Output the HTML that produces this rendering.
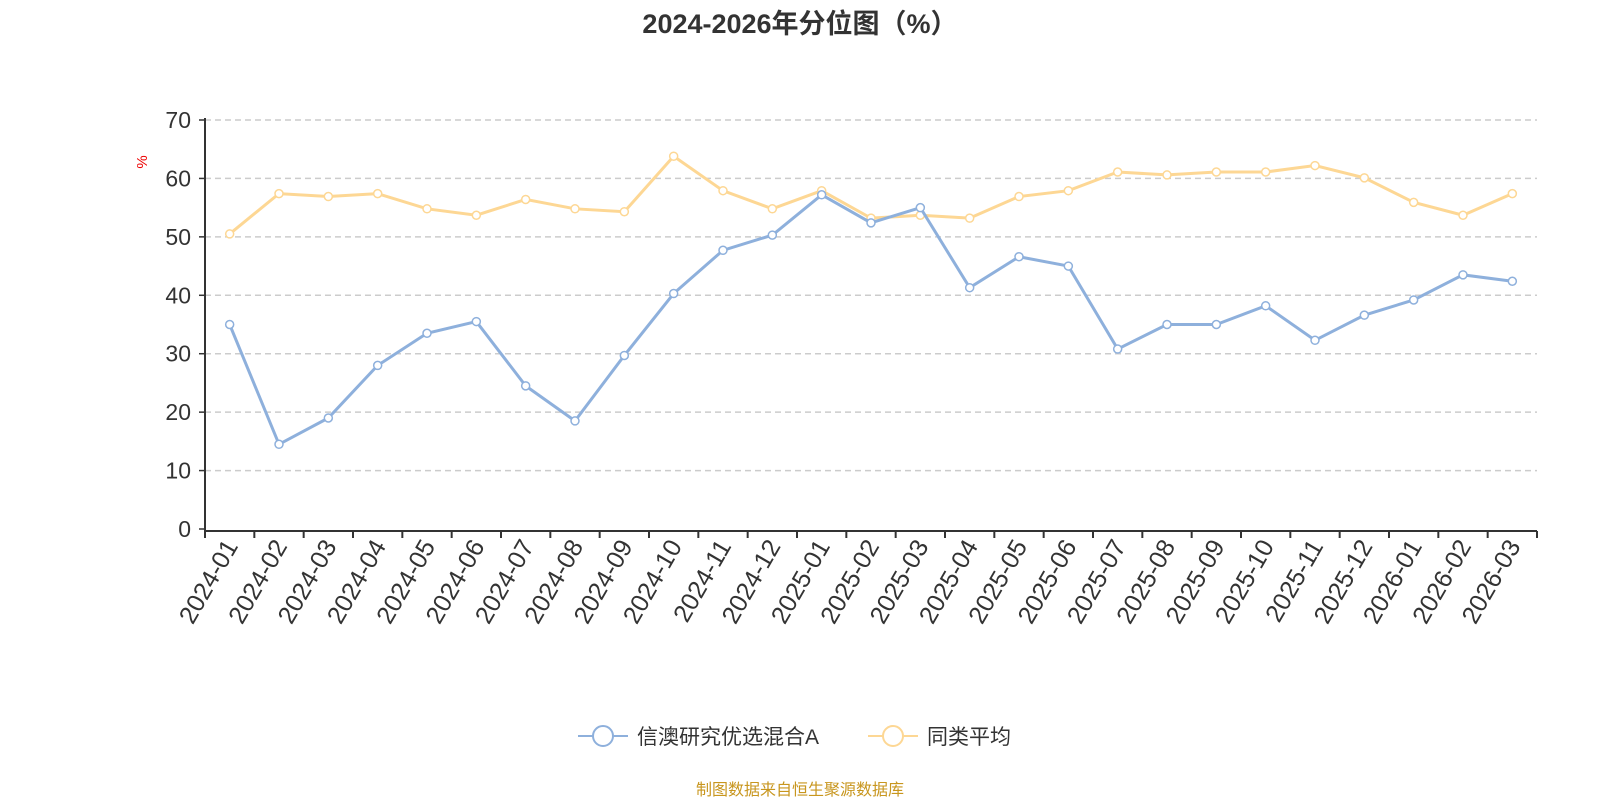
<!DOCTYPE html>
<html><head><meta charset="utf-8"><style>
body{margin:0;background:#fff;}
svg text{font-family:"Liberation Sans","Noto Sans CJK SC",sans-serif;}
</style></head><body>
<svg id="c" width="1600" height="800" xmlns="http://www.w3.org/2000/svg">
<text x="800" y="33" text-anchor="middle" font-size="27" font-weight="bold" fill="#333">2024-2026年分位图（%）</text>
<text transform="translate(147,162) rotate(-90)" text-anchor="middle" font-size="15" fill="#e00">%</text>
<g id="grid"></g><g id="axes"></g><g id="series"></g>
<g>
<g>
<line x1="578" y1="736" x2="628" y2="736" stroke="#8eb0dc" stroke-width="2"/><circle cx="603" cy="736" r="10" fill="#fff" stroke="#8eb0dc" stroke-width="2"/>
<text x="637" y="744" font-size="21" fill="#333">信澳研究优选混合A</text></g>
<g>
<line x1="868" y1="736" x2="918" y2="736" stroke="#fdd794" stroke-width="2"/><circle cx="893" cy="736" r="10" fill="#fff" stroke="#fdd794" stroke-width="2"/>
<text x="927" y="744" font-size="21" fill="#333">同类平均</text></g>
</g>
<text x="800" y="795" text-anchor="middle" font-size="16" fill="#c8961e">制图数据来自恒生聚源数据库</text>
</svg>
<script>
const categories=["2024-01","2024-02","2024-03","2024-04","2024-05","2024-06","2024-07","2024-08","2024-09","2024-10","2024-11","2024-12","2025-01","2025-02","2025-03","2025-04","2025-05","2025-06","2025-07","2025-08","2025-09","2025-10","2025-11","2025-12","2026-01","2026-02","2026-03"];
const fundValues=[35,14.5,19,28,33.5,35.5,24.5,18.5,29.7,40.3,47.7,50.3,57.2,52.4,55,41.3,46.6,45,30.8,35,35,38.2,32.3,36.6,39.2,43.5,42.4];
const avgValues=[50.5,57.4,56.9,57.4,54.8,53.7,56.4,54.8,54.3,63.8,57.9,54.8,57.9,53.2,53.7,53.2,56.9,57.9,61.1,60.6,61.1,61.1,62.2,60.1,55.9,53.7,57.4];
const yTicks=[0,10,20,30,40,50,60,70];
const L=205,R=1537,T=120,B=529,NS="http://www.w3.org/2000/svg";
const bw=(R-L)/categories.length;
const xs=i=>L+bw*(i+0.5);
const ys=v=>B-(v/70)*(B-T);
function mk(tag,attrs,parent){const e=document.createElementNS(NS,tag);for(const k in attrs)e.setAttribute(k,attrs[k]);parent.appendChild(e);return e;}
const grid=document.getElementById('grid'),axes=document.getElementById('axes'),ser=document.getElementById('series');
yTicks.forEach(t=>{
 if(t>0){const g=mk('line',{x1:L,x2:R,y1:ys(t),y2:ys(t),stroke:'#ccc','stroke-dasharray':'6,4','stroke-width':1.5},grid);
 
 }
 const tx=mk('text',{x:L-14,y:ys(t)+8,'text-anchor':'end','font-size':23,fill:'#333'},axes);tx.textContent=t;
 
 
 mk('line',{x1:L-6,x2:L,y1:ys(t),y2:ys(t),stroke:'#333','stroke-width':1.5},axes);
});
const ya=mk('line',{x1:L,x2:L,y1:T-2,y2:B+2,stroke:'#333','stroke-width':2},axes);


const xa=mk('line',{x1:L,x2:R,y1:B+2,y2:B+2,stroke:'#333','stroke-width':2},axes);


for(let i=0;i<=categories.length;i++)mk('line',{x1:L+bw*i,x2:L+bw*i,y1:B+2,y2:B+9,stroke:'#333','stroke-width':2},axes);
categories.forEach((c,i)=>{
 const x=xs(i)+9,y=B+17;
 const t=mk('text',{transform:`translate(${x},${y}) rotate(-60)`,'text-anchor':'end','font-size':25,fill:'#333'},axes);t.textContent=c;
 
 
});
function drawSeries(vals,color,name){
 const p=mk('polyline',{points:vals.map((v,i)=>xs(i)+','+ys(v)).join(' '),fill:'none',stroke:color,'stroke-width':3},ser);
 
 
 vals.forEach((v,i)=>{const c=mk('circle',{cx:xs(i),cy:ys(v),r:4,fill:'#fff',stroke:color,'stroke-width':1.5},ser);
 
 });
}
drawSeries(avgValues,'#fdd794','average');
drawSeries(fundValues,'#8eb0dc','fund');
</script>
</body></html>
